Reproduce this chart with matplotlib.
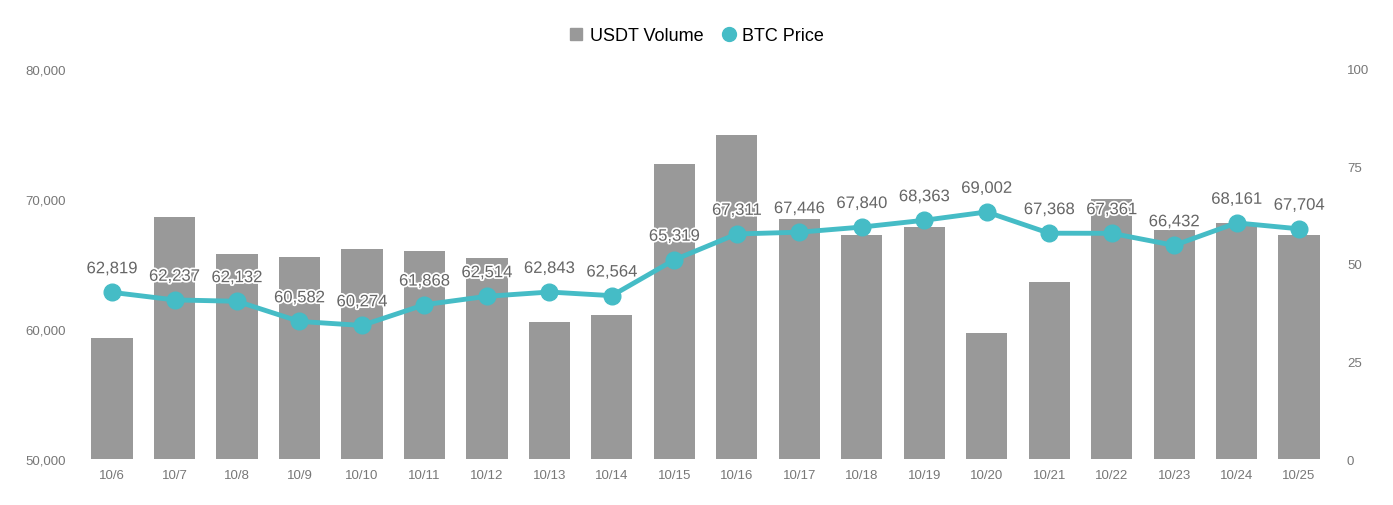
import matplotlib.pyplot as plt
import matplotlib.patheffects as pe
from matplotlib.lines import Line2D

dates = ['10/6', '10/7', '10/8', '10/9', '10/10', '10/11', '10/12', '10/13', '10/14', '10/15',
         '10/16', '10/17', '10/18', '10/19', '10/20', '10/21', '10/22', '10/23', '10/24', '10/25']
btc_price = [62819, 62237, 62132, 60582, 60274, 61868, 62514, 62843, 62564, 65319,
             67311, 67446, 67840, 68363, 69002, 67368, 67361, 66432, 68161, 67704]
usdt_volume = [31.0, 62.1, 52.6, 51.8, 53.8, 53.3, 51.5, 35.1, 36.9, 75.6,
               83.1, 61.5, 57.4, 59.5, 32.3, 45.4, 66.7, 58.7, 60.5, 57.4]

bar_color = '#999999'
line_color = '#45BCC6'
tick_color = '#777777'

plt.rcParams['font.family'] = ['Liberation Sans', 'DejaVu Sans']

fig = plt.figure(figsize=(13.93, 5.06), dpi=100)
ax = fig.add_axes([0.058, 0.0909, 0.897, 0.7708])
ax2 = ax.twinx()

x = list(range(len(dates)))
ax2.bar(x, usdt_volume, width=0.66, color=bar_color, zorder=1)
ax2.set_ylim(0, 100)
ax2.set_yticks([0, 25, 50, 75, 100])

# line sits on the left axis but must be drawn over the bars
ax.set_zorder(ax2.get_zorder() + 1)
ax.patch.set_visible(False)
ax.plot(x, btc_price, color=line_color, lw=3.5, marker='o', markersize=12, zorder=3)
ax.set_ylim(50000, 80000)
ax.set_yticks([50000, 60000, 70000, 80000])
ax.set_yticklabels([f'{v:,}' for v in [50000, 60000, 70000, 80000]])
ax.set_xlim(-0.5, len(dates) - 0.5)
ax.set_xticks(x)
ax.set_xticklabels(dates)

for a in (ax, ax2):
    for s in a.spines.values():
        s.set_visible(False)
    a.tick_params(length=0, colors=tick_color, labelsize=9.5)
ax.tick_params(axis='y', pad=11)
ax2.tick_params(axis='y', pad=12)
ax.tick_params(axis='x', pad=7)

for xi, v in zip(x, btc_price):
    ax.annotate(f'{v:,}', xy=(xi, v), xytext=(0, 17), textcoords='offset points',
                ha='center', va='center', fontsize=12, color='#666666',
                path_effects=[pe.withStroke(linewidth=2.5, foreground='white')],
                zorder=4)

handles = [Line2D([0], [0], marker='s', color='none', markerfacecolor=bar_color,
                  markeredgecolor=bar_color, markersize=8.5),
           Line2D([0], [0], marker='o', color='none', markerfacecolor=line_color,
                  markeredgecolor=line_color, markersize=10)]
fig.legend(handles, ['USDT Volume', 'BTC Price'], loc='center', bbox_to_anchor=(0.5, 0.928),
           ncol=2, frameon=False, handlelength=0.8, handletextpad=0.35, columnspacing=1.0,
           prop={'size': 13})

fig.savefig('out.png', dpi=100)
